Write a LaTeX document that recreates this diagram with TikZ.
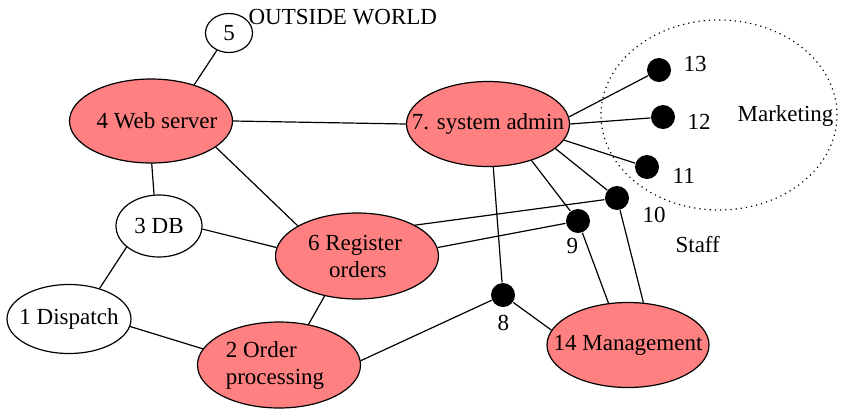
\documentclass[tikz,border=0pt]{standalone}
\usepackage{fontspec}
\setmainfont{Liberation Serif}
\newfontfamily\timesfont{Liberation Serif}
\usetikzlibrary{shapes.geometric}
\definecolor{salmonfill}{RGB}{255,128,128}

\begin{document}
\begin{tikzpicture}[x=0.5pt,y=-0.5pt,semithick,font=\timesfont\fontsize{11.5}{13.5}\selectfont]
  \tikzset{
    task/.style={ellipse,draw,inner sep=0pt},
    hot/.style={task,fill=salmonfill},
    staffdot/.style={circle,fill=black,inner sep=0pt,minimum size=12pt},
    tag/.style={inner sep=0pt,anchor=base west}
  }
  \useasboundingbox (0,0) rectangle (842,408);
  % groups
  \draw[dotted] (719,115) ellipse [x radius=59pt,y radius=47.5pt];
  % processes
  \node[task,minimum width=23.5pt,minimum height=19.5pt,label=center:5] (outside) at (229,33) {};
  \node[hot,minimum width=81.5pt,minimum height=42pt,label={[xshift=3pt]center:4 Web server}] (web) at (151,121) {};
  \node[task,minimum width=43pt,minimum height=31pt,label=center:3 DB] (db) at (159,226) {};
  \node[task,minimum width=62pt,minimum height=34.5pt,label=center:1 Dispatch] (dispatch) at (69,319) {};
  \node[hot,minimum width=81.5pt,minimum height=43pt,label={[align=center,xshift=-1pt]center:6 Register\\ \ orders}] (register) at (357,256) {};
  \node[hot,minimum width=81.5pt,minimum height=43pt,label={[align=left,xshift=-2pt]center:2 Order\\processing}] (order) at (279,365) {};
  \node[hot,minimum width=81.5pt,minimum height=42.5pt,label=center:7. system admin] (admin) at (488,124) {};
  \node[hot,minimum width=81pt,minimum height=42.5pt,label=center:14 Management] (mgmt) at (628,345) {};
  \foreach \n/\x/\y in {8/503/295,9/578/221,10/617/198,11/647/167,12/663/117,13/659/70}
  {
    \node[staffdot] (d\n) at (\x,\y) {};
  }
  % labels
  \node[tag] (outsidetag) at (248,24) {OUTSIDE WORLD};
  \node[tag] (markettag) at (737,121) {Marketing};
  \node[tag] (stafftag) at (675,252) {Staff};
  \foreach \n/\x/\y in {8/497/330,9/566/253,10/642/222,11/672/183,12/687/129,13/683/71}
  {
    \node[tag] (t\n) at (\x,\y) {\n};
  }
  % links
  \foreach \a/\b in {outside.-125/web.40,web.0/admin.180,web.-89/db.99,web.-22/register.153,
    db.-4/register.174,db.-147/dispatch.45,dispatch.-7/order.168,register.-129/order.54,
    order.3/d8,register.28/d10,register.6/d9,admin.5/d13,admin.0/d12,admin.-12/d11,
    admin.-20/d10,admin.-40/d9,admin.-83/d8,mgmt.169/d8,mgmt.115/d9,mgmt.70/d10}
  {
    \draw (\a)--(\b);
  }
\end{tikzpicture}
\end{document}
